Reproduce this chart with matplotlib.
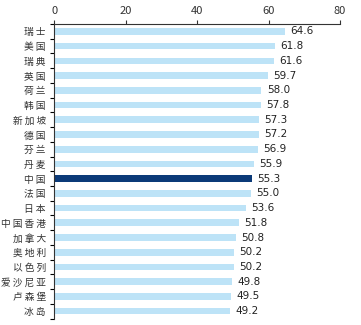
import matplotlib.pyplot as plt
import numpy as np

plt.rcParams['font.family'] = ['Noto Sans CJK SC', 'DejaVu Sans']

countries = ['瑞士', '美国', '瑞典', '英国', '荷兰', '韩国', '新加坡', '德国', '芬兰', '丹麦',
             '中国', '法国', '日本', '中国香港', '加拿大', '奥地利', '以色列', '爱沙尼亚', '卢森堡', '冰岛']
scores = [64.6, 61.8, 61.6, 59.7, 58.0, 57.8, 57.3, 57.2, 56.9, 55.9,
          55.3, 55.0, 53.6, 51.8, 50.8, 50.2, 50.2, 49.8, 49.5, 49.2]
highlight = '中国'

colors = ['#0B3A78' if c == highlight else '#BDE3F7' for c in countries]
y = np.arange(len(countries))

fig = plt.figure(figsize=(3.61, 3.25), dpi=100)
ax = fig.add_axes([0.15, 0.02, 0.792, 0.906])

ax.barh(y, scores, height=0.45, color=colors)
for yi, v in zip(y, scores):
    ax.text(v + 1.5, yi, f'{v:.1f}', va='center', ha='left', fontsize=7.5,
            color='#222222', family='DejaVu Sans')

ax.set_xlim(0, 80)
ax.set_ylim(len(countries) - 0.5, -0.5)
ax.xaxis.tick_top()
ax.set_xticks([0, 20, 40, 60, 80])
ax.tick_params(axis='x', direction='out', length=3, width=0.8, pad=3, labelsize=8,
               colors='#333333')
ax.set_yticks(y)
# letter-spaced country names
ax.set_yticklabels(['\u2009'.join(c) for c in countries], fontsize=7, color='#333333')
ax.tick_params(axis='y', length=0, pad=6)
ax.set_yticks(np.arange(len(countries) + 1) - 0.5, minor=True)
ax.tick_params(axis='y', which='minor', length=3, width=0.8, direction='out')

for s in ['right', 'bottom']:
    ax.spines[s].set_visible(False)
for s in ['top', 'left']:
    ax.spines[s].set_linewidth(0.8)
    ax.spines[s].set_color('#333333')

fig.savefig('out.png', dpi=100)
